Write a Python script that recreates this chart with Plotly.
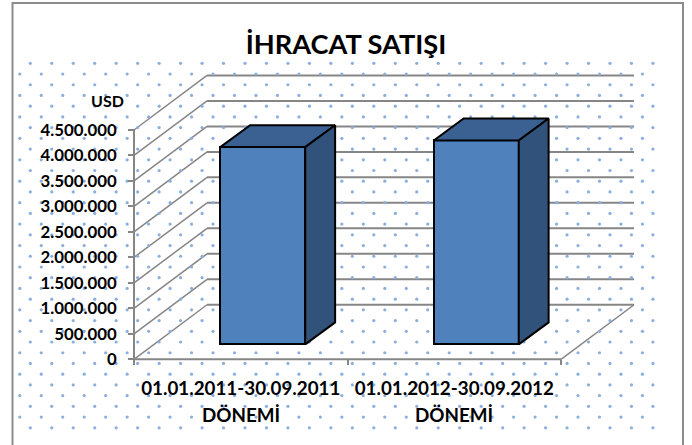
import numpy as np
import plotly.graph_objects as go

# ---- data ----
periods = ["01.01.2011-30.09.2011", "01.01.2012-30.09.2012"]
period_suffix = ["DÖNEMİ", "DÖNEMİ"]
export_usd = [3870000, 4000000]
y_ticks = [0, 500000, 1000000, 1500000, 2000000, 2500000, 3000000, 3500000, 4000000, 4500000]
title_text = "İHRACAT SATIŞI"
unit_label = "USD"

# ---- style / geometry ----
W, H = 692, 445
ORIGIN_X, ORIGIN_Y = 134, 359.3             # px position of the axes origin
PX_PER_X, PX_PER_Y = 213.5, 50.96e-6        # px per category, px per USD
X_RANGE = [-ORIGIN_X / PX_PER_X, (W - ORIGIN_X) / PX_PER_X]
Y_RANGE = [(ORIGIN_Y - H) / PX_PER_Y, ORIGIN_Y / PX_PER_Y]
WALL_DX, WALL_DY = 0.342, 1.07e6            # depth of the 3D box
BAR_SHIFT_X, BAR_BASE = 0.103, 0.294e6      # bars stand mid-floor
BAR_HALF, BAR_DX, BAR_DY = 0.199, 0.14, 0.43e6
GRID = "#868686"
FRONT, TOP, SIDE = "#4F81BD", "#3A6191", "#31527A"
FONT = "Lato"
DOT = "#8AAFDF"

fig = go.Figure()

# back wall, side wall, floor (bottom layer)
wall_x, wall_y, side_x, side_y = [], [], [], []
for t in y_ticks:
    wall_x += [WALL_DX, 2 + WALL_DX, None]
    wall_y += [t + WALL_DY, t + WALL_DY, None]
    side_x += [0, WALL_DX, None]
    side_y += [t, t + WALL_DY, None]
side_x += [2, 2 + WALL_DX, None]
side_y += [0, WALL_DY, None]
fig.add_trace(go.Scatter(x=side_x, y=side_y, mode="lines", line=dict(color=GRID, width=1.5),
                         hoverinfo="skip", showlegend=False, xaxis="x", yaxis="y"))
fig.add_trace(go.Scatter(x=wall_x, y=wall_y, mode="lines", line=dict(color=GRID, width=2),
                         hoverinfo="skip", showlegend=False, xaxis="x", yaxis="y"))
fig.add_trace(go.Scatter(x=[0, 0, None, 0, 2], y=[0, y_ticks[-1], None, 0, 0], mode="lines",
                         line=dict(color=GRID, width=2), hoverinfo="skip", showlegend=False,
                         xaxis="x", yaxis="y"))

# dotted chart-area texture (pattern laid out in px, converted to axis units)
dx, dy = [], []
for i, row_y in enumerate(np.arange(63.3, 431, 10.72)):
    start = 30.3 if i % 2 == 0 else 19.8
    for col_x in np.arange(start, 656, 21.47):
        dx.append((col_x - ORIGIN_X) / PX_PER_X)
        dy.append((ORIGIN_Y - row_y) / PX_PER_Y)
fig.add_trace(go.Scatter(x=dx, y=dy, mode="markers",
                         marker=dict(size=3.2, color=DOT, line=dict(width=0)),
                         hoverinfo="skip", showlegend=False, xaxis="x", yaxis="y"))

# bars
bar_x = [i + 0.5 + BAR_SHIFT_X for i in range(len(periods))]
fig.add_trace(go.Bar(x=bar_x, y=export_usd, base=BAR_BASE, width=2 * BAR_HALF,
                     marker=dict(color=FRONT, line=dict(color="black", width=2)),
                     hoverinfo="skip", showlegend=False, xaxis="x2", yaxis="y2"))
for cx, v in zip(bar_x, export_usd):
    top = BAR_BASE + v
    l, r = cx - BAR_HALF, cx + BAR_HALF
    fig.add_trace(go.Scatter(x=[l, r, r + BAR_DX, l + BAR_DX, l],
                             y=[top, top, top + BAR_DY, top + BAR_DY, top],
                             mode="lines", fill="toself", fillcolor=TOP,
                             line=dict(color="black", width=2), hoverinfo="skip",
                             showlegend=False, xaxis="x2", yaxis="y2"))
    fig.add_trace(go.Scatter(x=[r, r + BAR_DX, r + BAR_DX, r, r],
                             y=[BAR_BASE, BAR_BASE + BAR_DY, top + BAR_DY, top, BAR_BASE],
                             mode="lines", fill="toself", fillcolor=SIDE,
                             line=dict(color="black", width=2), hoverinfo="skip",
                             showlegend=False, xaxis="x2", yaxis="y2"))

y_font = dict(family=FONT, size=16.8, color="black", weight=700)
x_font = dict(family=FONT, size=18.8, color="black", weight=700)
unit_font = dict(family=FONT, size=16, color="black", weight=700)
annotations = [
    dict(text=unit_label, xref="paper", yref="paper", x=126 / W, y=1 - 100 / H,
         xanchor="right", yanchor="middle", showarrow=False, font=unit_font)
]
for i, s in enumerate(period_suffix):
    annotations.append(dict(text=s, xref="x2", yref="paper", x=i + 0.5, y=1 - 414 / H,
                            xanchor="center", yanchor="middle", showarrow=False, font=x_font))

fig.update_layout(
    width=W, height=H, autosize=False,
    margin=dict(l=0, r=0, t=0, b=0),
    paper_bgcolor="white", plot_bgcolor="rgba(0,0,0,0)",
    separators=",.", bargap=0, showlegend=False,
    title=dict(text=title_text, x=0.5, xanchor="center", y=1 - 44 / H, yanchor="middle",
               font=dict(family=FONT, size=27.2, color="black", weight=700)),
    annotations=annotations,
    shapes=[dict(type="rect", xref="paper", yref="paper", x0=12.5 / W, x1=683 / W,
                 y0=-0.05, y1=1 - 3 / H, line=dict(color="#8C8C8C", width=2), fillcolor="white",
                 layer="below")],
    xaxis=dict(domain=[0, 1], range=X_RANGE, visible=False, fixedrange=True),
    yaxis=dict(domain=[0, 1], range=Y_RANGE, visible=False, fixedrange=True),
    xaxis2=dict(domain=[0, 1], range=X_RANGE, overlaying="x", anchor="free",
                position=1 - ORIGIN_Y / H, showgrid=False, zeroline=False, showline=False,
                tickmode="array", tickvals=[i + 0.5 for i in range(len(periods))], ticktext=periods,
                ticks="outside", ticklen=12, tickcolor="rgba(0,0,0,0)", tickfont=x_font,
                minor=dict(tickmode="array", tickvals=[0, 1, 2], ticks="outside", ticklen=5,
                           tickwidth=2, tickcolor=GRID, showgrid=False)),
    yaxis2=dict(domain=[0, 1], range=Y_RANGE, overlaying="y", anchor="free",
                position=ORIGIN_X / W, side="left", showgrid=False, zeroline=False, showline=False,
                tickmode="array", tickvals=y_ticks, tickformat=",d", ticklabelstandoff=8,
                ticks="outside", ticklen=6, tickwidth=2, tickcolor=GRID, tickfont=y_font),
)
fig.write_html("out.html", config={"displayModeBar": False},
               post_script="document.body.style.margin='0';document.body.style.overflow='hidden';")
